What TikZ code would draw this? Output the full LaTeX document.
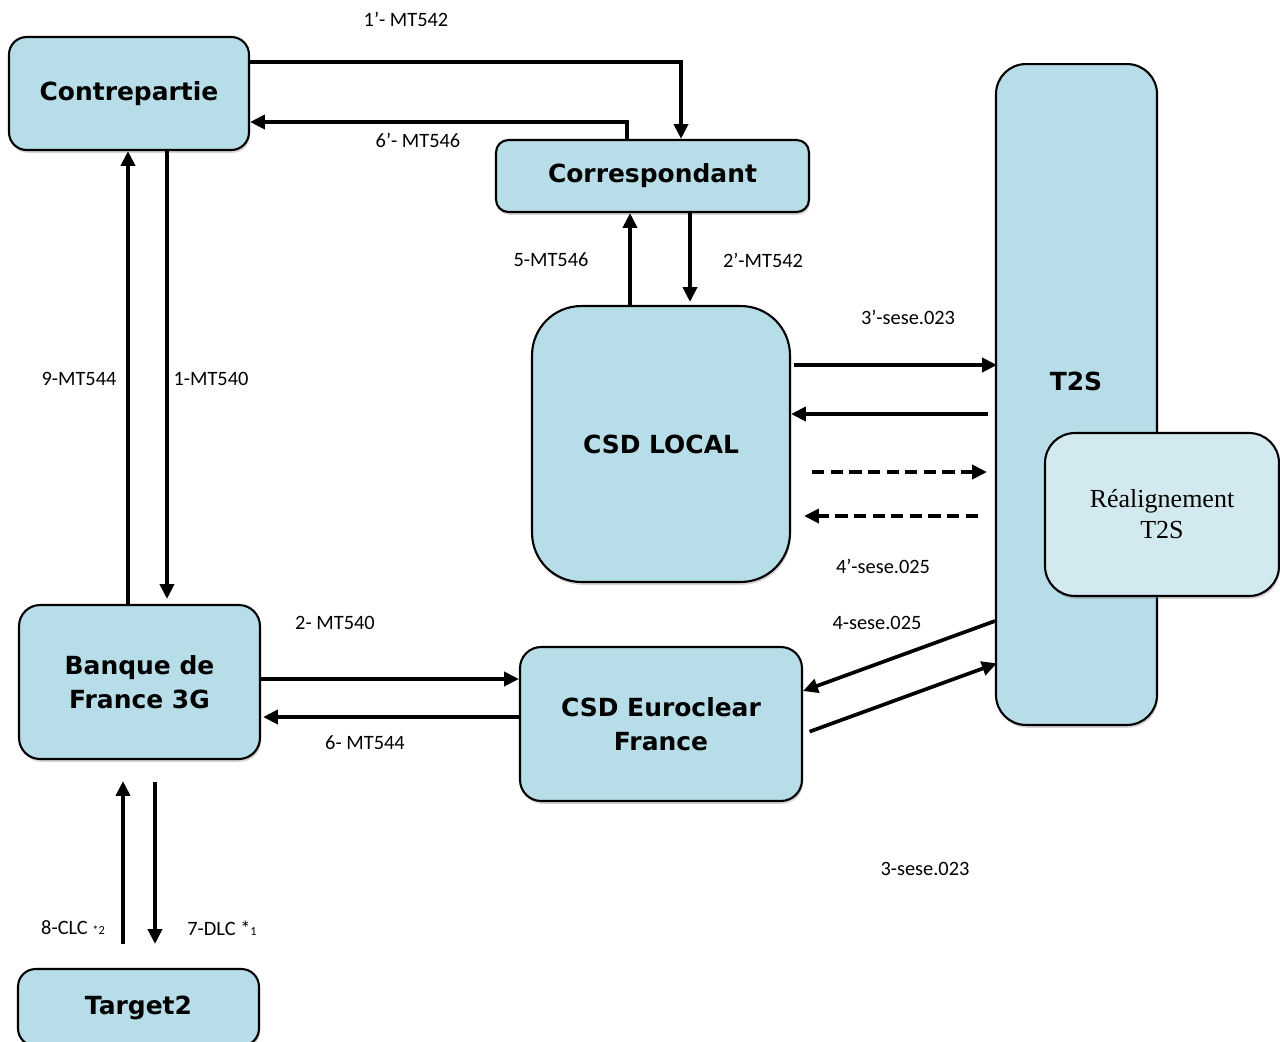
\documentclass[tikz,border=0pt]{standalone}
\usepackage{fontspec}
\setmainfont{Carlito}
\newfontfamily\boxfont{DejaVu Sans}
\newfontfamily\serfont{Liberation Serif}
\usetikzlibrary{arrows.meta,shadows,calc}
\definecolor{boxblue}{HTML}{B7DDE8}
\definecolor{lightblue}{HTML}{D2E9F0}
\begin{document}
\begin{tikzpicture}[x=0.02cm,y=-0.02cm,
  box/.style={draw=black, line width=1.2pt, fill=boxblue, rounded corners=#1,
    drop shadow={shadow xshift=0.6pt, shadow yshift=-1.6pt, opacity=0.35},
    font=\boxfont\bfseries\fontsize{14.2pt}{19pt}\selectfont, align=center, inner sep=0pt},
  box/.default=10pt,
  lbl/.style={font=\fontsize{11.6pt}{13pt}\selectfont, inner sep=0pt},
  arr/.style={line width=2.1pt, -{Triangle[length=8.5pt,width=8pt]}},
  dsh/.style={arr, dash pattern=on 7pt off 3.6pt}]
\useasboundingbox (0,0) rectangle (1280,1041);

% boxes
\node[box=10pt, minimum width=4.8cm, minimum height=2.26cm] (contre) at (129,93.5) {Contrepartie};
\node[box=7pt, minimum width=6.26cm, minimum height=1.44cm] (corr) at (652.5,176) {Correspondant};
\node[box=28pt, minimum width=5.16cm, minimum height=5.52cm] (local) at (661,444) {CSD LOCAL};
\node[box=17pt, minimum width=3.22cm, minimum height=13.22cm] (t2s) at (1076.5,394.5) {};
\node[font=\boxfont\bfseries\fontsize{14.2pt}{16pt}\selectfont, inner sep=0pt] (t2slbl) at (1076,381) {T2S};
\node[box=17pt, fill=lightblue, minimum width=4.68cm, minimum height=3.26cm,
  font=\serfont\fontsize{14.8pt}{17.6pt}\selectfont] (realign) at (1162,514.5) {Réalignement\\T2S};
\node[box=12pt, minimum width=4.82cm, minimum height=3.08cm] (banque) at (139.5,682) {Banque de\\France 3G};
\node[box=12pt, minimum width=5.64cm, minimum height=3.08cm] (euro) at (661,724) {CSD Euroclear\\France};
\node[box=10pt, minimum width=4.82cm, minimum height=1.54cm] (target) at (138.5,1007.5) {Target2};

% connectors
\draw[arr] (contre.east |- 0,62) -| (corr.north -| 681,0);
\draw[arr] (corr.north -| 627,0) |- (contre.east |- 0,122);
\draw[arr] (banque.north -| 128,0) -- (contre.south -| 128,0);
\draw[arr, shorten >=0.1cm] (contre.south -| 167,0) -- (banque.north -| 167,0);
\draw[arr] (local.north -| 630,0) -- (corr.south -| 630,0);
\draw[arr, shorten >=0.06cm] (corr.south -| 690,0) -- (local.north -| 690,0);
\draw[arr, shorten <=0.06cm, shorten >=-0.04cm] (local.east |- 0,365) -- (t2s.west |- 0,365);
\draw[arr, shorten <=0.14cm] (t2s.west |- 0,414) -- (local.east |- 0,414);
\draw[dsh, shorten <=0.42cm, shorten >=0.16cm] (local.east |- 0,472) -- (t2s.west |- 0,472);
\draw[dsh, shorten <=0.34cm, shorten >=0.26cm] (t2s.west |- 0,516) -- (local.east |- 0,516);
\draw[arr] (banque.east |- 0,679) -- (euro.west |- 0,679);
\draw[arr, shorten >=0.04cm] (euro.west |- 0,717) -- (banque.east |- 0,717);
\draw[arr] (t2s.west |- 0,621) -- (euro.east |- 0,691);
\draw[arr, shorten <=0.14cm, shorten >=-0.04cm] (euro.east |- 0,734) -- (t2s.west |- 0,664);
\draw[arr, shorten <=0.48cm, shorten >=0.42cm] (target.north -| 123,0) -- (banque.south -| 123,0);
\draw[arr, shorten <=0.44cm, shorten >=0.48cm] (banque.south -| 155,0) -- (target.north -| 155,0);

% labels
\node[lbl] (l1) at (406,19) {1’- MT542};
\node[lbl] (l2) at (418,140) {6’- MT546};
\node[lbl] (l3) at (79,379) {9-MT544};
\node[lbl] (l4) at (211,379) {1-MT540};
\node[lbl] (l5) at (551,260) {5-MT546};
\node[lbl] (l6) at (763,260) {2’-MT542};
\node[lbl] (l7) at (908,317) {3’-sese.023};
\node[lbl] (l8) at (883,566) {4’-sese.025};
\node[lbl] (l9) at (335,623) {2- MT540};
\node[lbl] (l10) at (365,743) {6- MT544};
\node[lbl] (l11) at (877,623) {4-sese.025};
\node[lbl] (l12) at (925,869) {3-sese.023};
\node[lbl] (l13) at (73,928) {8-CLC {\fontsize{7pt}{8pt}\selectfont *2}};
\node[lbl] (l14) at (222,928) {7-DLC *{\fontsize{7pt}{8pt}\selectfont 1}};
\end{tikzpicture}
\end{document}
